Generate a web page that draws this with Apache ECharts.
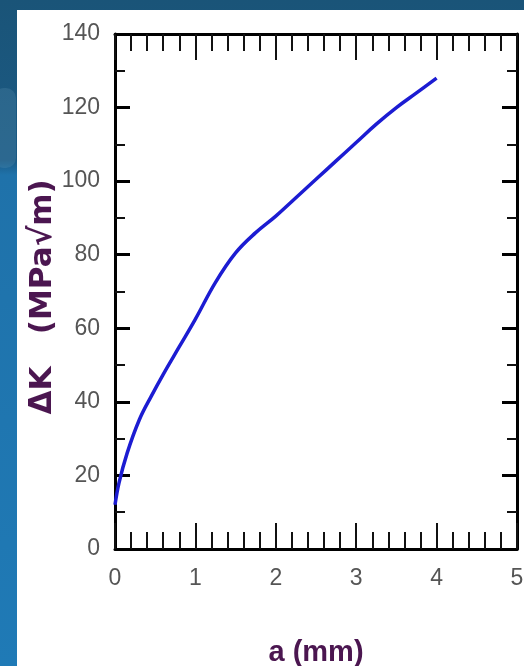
<!DOCTYPE html>
<html>
<head>
<meta charset="utf-8">
<script src="https://cdn.jsdelivr.net/npm/echarts@6/dist/echarts.min.js"></script>
<style>
  html, body { margin: 0; padding: 0; }
  body {
    width: 524px; height: 666px; overflow: hidden; position: relative;
    background: linear-gradient(to bottom, #1a5478 0px, #1b5a84 160px, #1f72aa 175px, #1f7ab6 666px);
  }
  #mark {
    position: absolute; left: -6px; top: 88px; width: 22px; height: 80px;
    border-radius: 10px; background: rgba(120, 170, 200, 0.18);
  }
  #panel {
    position: absolute; left: 17px; top: 10px; width: 507px; height: 656px;
    background: #ffffff;
  }
  #chart { width: 507px; height: 656px; }
</style>
</head>
<body>
<div id="mark"></div>
<div id="panel"><div id="chart"></div></div>
<script>
// Crack length a (mm) and stress intensity range ΔK (MPa√m)
const crackLength = [0, 0.05, 0.15, 0.3, 0.45, 0.6, 0.8, 1.0, 1.25, 1.5, 1.75, 2.0, 2.25, 2.5, 2.75, 3.0, 3.25, 3.5, 3.75, 4.0];
const deltaK      = [12, 18, 26, 35, 41.5, 47.5, 55, 62.5, 72.5, 80.5, 86, 90.5, 95.5, 100.5, 105.5, 110.5, 115.5, 120, 124, 128];

const xRange = { min: 0, max: 5, interval: 1 };
const yRange = { min: 0, max: 140, interval: 20 };

const xName = 'a (mm)';
const yName = 'ΔK   (MPa√m) ';

const points = crackLength.map((a, i) => [a, deltaK[i]]);

const labelFont = {
  fontFamily: '"Liberation Sans Narrow", "Liberation Sans", Arial, sans-serif',
  fontSize: 23,
  color: '#555555'
};

function xAxisDef(pos) {
  return {
    type: 'value', position: pos, min: xRange.min, max: xRange.max, interval: xRange.interval,
    name: pos === 'bottom' ? xName : '',
    nameLocation: 'middle', nameGap: 89, nameMoveOverlap: false,
    nameTextStyle: {
      fontFamily: '"Liberation Sans Narrow", "Liberation Sans", Arial, sans-serif',
      fontWeight: 'bold', fontSize: 29, color: '#4b1650'
    },
    axisLine: { show: true, onZero: false, lineStyle: { color: '#000', width: 3 } },
    axisTick: { show: true, inside: true, length: 26, lineStyle: { color: '#111', width: 2 } },
    minorTick: { show: true, splitNumber: 5, length: 17, lineStyle: { color: '#111', width: 2 } },
    axisLabel: Object.assign({ show: pos === 'bottom', margin: 18 }, labelFont),
    splitLine: { show: false }
  };
}

function yAxisDef(pos) {
  return {
    type: 'value', position: pos, min: yRange.min, max: yRange.max, interval: yRange.interval,
    name: pos === 'left' ? yName : '',
    nameLocation: 'middle', nameGap: 57, nameRotate: 90, nameMoveOverlap: false,
    nameTextStyle: {
      fontFamily: '"DejaVu Sans", "Liberation Sans", Arial, sans-serif',
      fontWeight: 'bold', fontSize: 31, color: '#4b1650'
    },
    axisLine: { show: true, onZero: false, lineStyle: { color: '#000', width: 3 } },
    axisTick: { show: true, inside: true, length: 15, lineStyle: { color: '#000', width: 3 } },
    minorTick: { show: true, splitNumber: 2, length: 10, lineStyle: { color: '#111', width: 2 } },
    axisLabel: Object.assign({ show: pos === 'left', margin: 15 }, labelFont),
    splitLine: { show: false }
  };
}

const chart = echarts.init(document.getElementById('chart'), null, { renderer: 'canvas' });
chart.setOption({
  animation: false,
  backgroundColor: '#ffffff',
  grid: { left: 98, top: 24, right: 7, bottom: 117, containLabel: false, outerBoundsMode: 'none' },
  xAxis: [xAxisDef('bottom'), xAxisDef('top')],
  yAxis: [yAxisDef('left'), yAxisDef('right')],
  series: [{
    type: 'line',
    xAxisIndex: 0, yAxisIndex: 0,
    data: points,
    smooth: 0.4,
    showSymbol: false,
    lineStyle: { color: '#1c1cd2', width: 3.5 }
  }]
});
</script>
</body>
</html>
